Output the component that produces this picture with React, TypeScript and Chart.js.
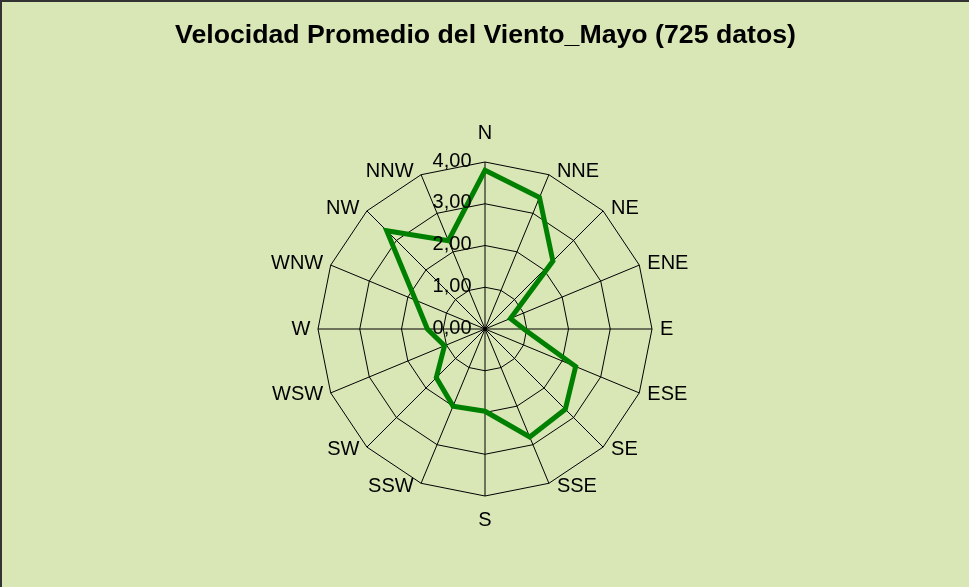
import React, { useEffect, useRef } from 'react';
import { Chart, registerables } from 'chart.js';
Chart.register(...registerables);

const directions = ['N', 'NNE', 'NE', 'ENE', 'E', 'ESE', 'SE', 'SSE', 'S', 'SSW', 'SW', 'WSW', 'W', 'WNW', 'NW', 'NNW'];
const speeds = [3.80, 3.41, 2.30, 0.66, 0.93, 2.35, 2.72, 2.80, 1.97, 2.00, 1.65, 1.05, 1.38, 1.80, 3.33, 2.29];
const tickValues = [0, 1, 2, 3, 4];
const tickLabels = ['0,00', '1,00', '2,00', '3,00', '4,00'];
const chartTitle = 'Velocidad Promedio del Viento_Mayo (725 datos)';

const FONT = '"Liberation Sans", Arial, sans-serif';

export default function App() {
  const ref = useRef<HTMLCanvasElement>(null);
  useEffect(() => {
    document.body.style.margin = '0';
    const labelPlugin = {
      id: 'excelLabels',
      afterDatasetsDraw(chart: any) {
        const s = chart.scales.r;
        const ctx = chart.ctx;
        ctx.save();
        ctx.font = '20px ' + FONT;
        ctx.fillStyle = '#000';
        // tick labels to the left of the N axis
        ctx.textAlign = 'right';
        ctx.textBaseline = 'middle';
        tickValues.forEach((v, i) => {
          const d = s.getDistanceFromCenterForValue(v);
          ctx.fillText(tickLabels[i], s.xCenter - 13.5, s.yCenter - d - 1);
        });
        // direction labels
        const n = directions.length;
        directions.forEach((lab, i) => {
          const p = s.getPointPosition(i, s.drawingArea);
          const theta = (i / n) * Math.PI * 2;
          const c = Math.cos(theta);
          if (i === 0) {
            ctx.textAlign = 'center';
            ctx.fillText(lab, p.x, p.y - 29);
          } else if (i === n / 2) {
            ctx.textAlign = 'center';
            ctx.fillText(lab, p.x, p.y + 24);
          } else if (i < n / 2) {
            ctx.textAlign = 'left';
            ctx.fillText(lab, p.x + 8, p.y - 4 * c);
          } else {
            ctx.textAlign = 'right';
            ctx.fillText(lab, p.x - 7.5, p.y - 4 * c);
          }
        });
        ctx.restore();
      },
    };
    const chart = new Chart(ref.current as HTMLCanvasElement, {
      type: 'radar',
      data: {
        labels: directions,
        datasets: [
          {
            data: speeds,
            borderColor: '#008000',
            backgroundColor: 'transparent',
            borderWidth: 5,
            pointRadius: 0,
            pointHoverRadius: 0,
            fill: false,
            tension: 0,
          },
        ],
      },
      options: {
        animation: false,
        responsive: false,
        maintainAspectRatio: false,
        layout: { padding: { top: 0, bottom: 91, left: 0, right: 0 } },
        plugins: {
          legend: { display: false },
          tooltip: { enabled: false },
          title: {
            display: true,
            text: chartTitle,
            color: '#000',
            font: { family: FONT, size: 26.7, weight: 'bold' },
            padding: { top: 18, bottom: 109.96 },
          },
        },
        scales: {
          r: {
            min: 0,
            max: 4,
            ticks: { stepSize: 1, display: false },
            grid: { color: '#000', lineWidth: 1 },
            angleLines: { color: '#000', lineWidth: 1 },
            pointLabels: { display: false },
          },
        },
      },
      plugins: [labelPlugin],
    } as any);
    return () => chart.destroy();
  }, []);
  return (
    <div
      style={{
        width: 969,
        height: 587,
        background: '#d9e6b6',
        borderTop: '2px solid #333',
        borderLeft: '2px solid #333',
        boxSizing: 'border-box',
      }}
    >
      <canvas ref={ref} width={967} height={585} style={{ display: 'block' }} />
    </div>
  );
}
